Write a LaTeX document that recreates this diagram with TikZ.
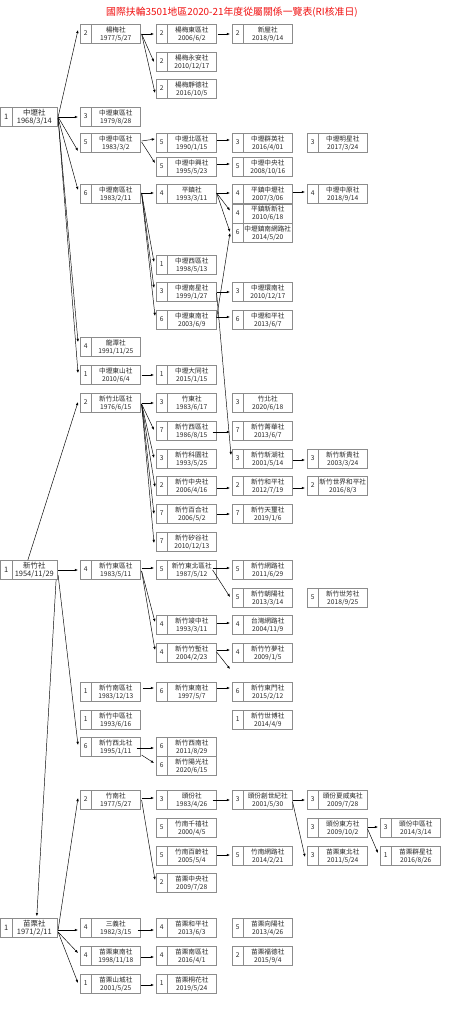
\documentclass[tikz,border=0pt]{standalone}
\usepackage{fontspec}
\setmainfont{Noto Sans CJK TC}
\usepackage{tikz}
\usetikzlibrary{arrows.meta,calc}
\definecolor{boxline}{HTML}{8C8C8C}
\definecolor{titlered}{HTML}{F01010}
\newcommand{\clubinfo}[4][36.75pt]{\makebox[8.25pt]{#2}\parbox[c]{#1}{\centering #3\\#4}}
\tikzset{
  club/.style={draw=boxline, line width=0.45pt, inner sep=0pt, anchor=west,
    minimum width=45pt, minimum height=14.25pt, text=black!85,
    font=\fontsize{5}{6}\selectfont,
    path picture={\draw[boxline, line width=0.45pt]
      ([xshift=8.25pt]path picture bounding box.north west) --
      ([xshift=8.25pt]path picture bounding box.south west);}},
  root/.style={club, minimum width=42pt, font=\fontsize{5.6}{6.4}\selectfont},
  link/.style={-{Latex[length=2.4pt,width=1.9pt]}, line width=0.35pt}
}

\begin{document}
\begin{tikzpicture}[x=0.75pt, y=-0.75pt]
        \useasboundingbox (0,0) rectangle (464,1024);

        % Title
        \node[text=titlered, font=\fontsize{7.4}{9}\selectfont] (title) at (232,12)
          {國際扶輪3501地區2020-21年度從屬關係一覽表(RI核准日)};

        % Column 1
        \node[root] (zhongli) at (0.5,117) {\clubinfo[33.75pt]{1}{中壢社}{1968/3/14}};
        \node[root] (hsinchu) at (0.5,570) {\clubinfo[33.75pt]{1}{新竹社}{1954/11/29}};
        \node[root] (miaoli) at (0.5,928) {\clubinfo[33.75pt]{1}{苗栗社}{1971/2/11}};

        % Column 2
        \node[club] (yangmei) at (80,34) {\clubinfo{2}{楊梅社}{1977/5/27}};
        \node[club] (zleast) at (80,117) {\clubinfo{3}{中壢東區社}{1979/8/28}};
        \node[club] (zlcentral) at (80,143) {\clubinfo{5}{中壢中區社}{1983/3/2}};
        \node[club] (zlsouth) at (80,194) {\clubinfo{6}{中壢南區社}{1983/2/11}};
        \node[club] (longtan) at (80,347) {\clubinfo{4}{龍潭社}{1991/11/25}};
        \node[club] (zleastmt) at (80,375) {\clubinfo{1}{中壢東山社}{2010/6/4}};
        \node[club] (hcnorth) at (80,403) {\clubinfo{2}{新竹北區社}{1976/6/15}};
        \node[club] (hceast) at (80,570) {\clubinfo{4}{新竹東區社}{1983/5/11}};
        \node[club] (hcsouth) at (80,692) {\clubinfo{1}{新竹南區社}{1983/12/13}};
        \node[club] (hccentral) at (80,720) {\clubinfo{1}{新竹中區社}{1993/6/16}};
        \node[club] (hcnw) at (80,747) {\clubinfo{6}{新竹西北社}{1995/1/11}};
        \node[club] (zhunan) at (80,800) {\clubinfo{2}{竹南社}{1977/5/27}};
        \node[club] (sanyi) at (80,928) {\clubinfo{4}{三義社}{1982/3/15}};
        \node[club] (mlse) at (80,956) {\clubinfo{4}{苗栗東南社}{1998/11/18}};
        \node[club] (mlmt) at (80,984) {\clubinfo{1}{苗栗山城社}{2001/5/25}};

        % Column 3
        \node[club] (ymeast) at (156,34) {\clubinfo{2}{楊梅東區社}{2006/6/2}};
        \node[club] (ymyongan) at (156,62) {\clubinfo{2}{楊梅永安社}{2010/12/17}};
        \node[club] (ymjingde) at (156,89) {\clubinfo{2}{楊梅靜德社}{2016/10/5}};
        \node[club] (zlnorth) at (156,143) {\clubinfo{5}{中壢北區社}{1990/1/15}};
        \node[club] (zlzhongxing) at (156,167) {\clubinfo{5}{中壢中興社}{1995/5/23}};
        \node[club] (pingzhen) at (156,194) {\clubinfo{4}{平鎮社}{1993/3/11}};
        \node[club] (zlwest) at (156,265) {\clubinfo{1}{中壢西區社}{1998/5/13}};
        \node[club] (zlnanxing) at (156,292) {\clubinfo{3}{中壢南星社}{1999/1/27}};
        \node[club] (zlse) at (156,320) {\clubinfo{6}{中壢東南社}{2003/6/9}};
        \node[club] (zldatong) at (156,375) {\clubinfo{1}{中壢大同社}{2015/1/15}};
        \node[club] (zhudong) at (156,403) {\clubinfo{3}{竹東社}{1983/6/17}};
        \node[club] (hcwest) at (156,431) {\clubinfo{7}{新竹西區社}{1986/8/15}};
        \node[club] (hckeyuan) at (156,459) {\clubinfo{3}{新竹科園社}{1993/5/25}};
        \node[club] (hczhongyang) at (156,486) {\clubinfo{2}{新竹中央社}{2006/4/16}};
        \node[club] (hcbaihe) at (156,514) {\clubinfo{7}{新竹百合社}{2006/5/2}};
        \node[club] (hcsigu) at (156,542) {\clubinfo{7}{新竹矽谷社}{2010/12/13}};
        \node[club] (hcne) at (156,570) {\clubinfo{5}{新竹東北區社}{1987/5/12}};
        \node[club] (hcjunzhong) at (156,625) {\clubinfo{4}{新竹竣中社}{1993/3/11}};
        \node[club] (hczhuqian) at (156,653) {\clubinfo{4}{新竹竹塹社}{2004/2/23}};
        \node[club] (hcdongnan) at (156,692) {\clubinfo{6}{新竹東南社}{1997/5/7}};
        \node[club] (hcxinan) at (156,747) {\clubinfo{6}{新竹西南社}{2011/8/29}};
        \node[club] (hcyangguang) at (156,766) {\clubinfo{6}{新竹陽光社}{2020/6/15}};
        \node[club] (toufen) at (156,800) {\clubinfo{3}{頭份社}{1983/4/26}};
        \node[club] (znqianxi) at (156,828) {\clubinfo{5}{竹南千禧社}{2000/4/5}};
        \node[club] (znbailing) at (156,856) {\clubinfo{5}{竹南百齡社}{2005/5/4}};
        \node[club] (mlcentral) at (156,883) {\clubinfo{2}{苗栗中央社}{2009/7/28}};
        \node[club] (mlheping) at (156,928) {\clubinfo{4}{苗栗和平社}{2013/6/3}};
        \node[club] (mlsouth) at (156,956) {\clubinfo{4}{苗栗南區社}{2016/4/1}};
        \node[club] (mltonghua) at (156,984) {\clubinfo{1}{苗栗桐花社}{2019/5/24}};

        % Column 4
        \node[club] (xinwu) at (232,34) {\clubinfo{2}{新屋社}{2018/9/14}};
        \node[club] (zlqunying) at (232,143) {\clubinfo{3}{中壢群英社}{2016/4/01}};
        \node[club] (zlzhongyang) at (232,167) {\clubinfo{5}{中壢中央社}{2008/10/16}};
        \node[club] (pzzhongli) at (232,194) {\clubinfo{4}{平鎮中壢社}{2007/3/06}};
        \node[club] (pzxinxin) at (232,213.5) {\clubinfo{4}{平鎮新新社}{2010/6/18}};
        \node[club] (zlzhennan) at (232,233) {\clubinfo{6}{中壢鎮南網路社}{2014/5/20}};
        \node[club] (zlhuannan) at (232,292) {\clubinfo{3}{中壢環南社}{2010/12/17}};
        \node[club] (zlheping) at (232,320) {\clubinfo{6}{中壢和平社}{2013/6/7}};
        \node[club] (zhubei) at (232,403) {\clubinfo{3}{竹北社}{2020/6/18}};
        \node[club] (hcjinghua) at (232,431) {\clubinfo{7}{新竹菁華社}{2013/6/7}};
        \node[club] (hcxinhu) at (232,459) {\clubinfo{3}{新竹新湖社}{2001/5/14}};
        \node[club] (hcheping) at (232,486) {\clubinfo{2}{新竹和平社}{2012/7/19}};
        \node[club] (hctianxi) at (232,514) {\clubinfo{7}{新竹天璽社}{2019/1/6}};
        \node[club] (hcwanglu) at (232,570) {\clubinfo{5}{新竹網路社}{2011/6/29}};
        \node[club] (hczhaoyang) at (232,598) {\clubinfo{5}{新竹朝陽社}{2013/3/14}};
        \node[club] (twnet) at (232,625) {\clubinfo{4}{台灣網路社}{2004/11/9}};
        \node[club] (hczhumeng) at (232,653) {\clubinfo{4}{新竹竹夢社}{2009/1/5}};
        \node[club] (hcdongmen) at (232,692) {\clubinfo{6}{新竹東門社}{2015/2/12}};
        \node[club] (hcshibo) at (232,720) {\clubinfo{1}{新竹世博社}{2014/4/9}};
        \node[club] (tfcsj) at (232,800) {\clubinfo{3}{頭份創世紀社}{2001/5/30}};
        \node[club] (znwanglu) at (232,856) {\clubinfo{5}{竹南網路社}{2014/2/21}};
        \node[club] (mlxiangyang) at (232,928) {\clubinfo{5}{苗栗向陽社}{2013/4/26}};
        \node[club] (mlfude) at (232,956) {\clubinfo{2}{苗栗福德社}{2015/9/4}};
        \coordinate (hcgap) at (230,669);

        % Column 5
        \node[club] (zlmingxing) at (307,143) {\clubinfo{3}{中壢明星社}{2017/3/24}};
        \node[club] (zlzhongyuan) at (307,194) {\clubinfo{4}{中壢中原社}{2018/9/14}};
        \node[club] (hcxingui) at (307,459) {\clubinfo{3}{新竹新貴社}{2003/3/24}};
        \node[club] (hcworldpeace) at (307,486) {\clubinfo{2}{新竹世界和平社}{2016/8/3}};
        \node[club] (hcshifang) at (307,598) {\clubinfo{5}{新竹世芳社}{2018/9/25}};
        \node[club] (tfhawaii) at (307,800) {\clubinfo{3}{頭份夏威夷社}{2009/7/28}};
        \node[club] (tfdongfang) at (307,828) {\clubinfo{3}{頭份東方社}{2009/10/2}};
        \node[club] (mldongbei) at (307,856) {\clubinfo{3}{苗栗東北社}{2011/5/24}};

        % Column 6
        \node[club] (tfzhongqu) at (380,828) {\clubinfo{3}{頭份中區社}{2014/3/14}};
        \node[club] (mlqunxing) at (380,856) {\clubinfo{1}{苗栗群星社}{2016/8/26}};

        % Zhongli links
        \draw[link] ($(zhongli.east)+(1,0)$) -- ($(yangmei.west)+(-2,-4)$);
        \draw[link] ($(zhongli.east)+(1,0)$) -- ($(zleast.west)+(-2,0)$);
        \draw[link] ($(zhongli.east)+(1,0)$) -- ($(zlcentral.west)+(-2,8)$);
        \draw[link] ($(zhongli.east)+(1,1)$) -- ($(zlsouth.west)+(-2,-4)$);
        \draw[link] ($(zhongli.east)+(1,1)$) -- ($(longtan.west)+(-2,-5)$);
        \draw[link] ($(zhongli.east)+(1,1)$) -- ($(zleastmt.west)+(-2,-2)$);
        \draw[link] ($(yangmei.east)+(1,0)$) -- ($(ymeast.west)+(-2,0)$);
        \draw[link] ($(yangmei.east)+(1,0)$) -- ($(ymyongan.west)+(-2,0)$);
        \draw[link] ($(yangmei.east)+(1,0)$) -- ($(ymjingde.west)+(-1,4)$);
        \draw[link] ($(ymeast.east)+(1,0)$) -- ($(xinwu.west)+(-2,0)$);
        \draw[link] ($(zlcentral.east)+(1,-2)$) -- ($(zlnorth.west)+(-1,-4)$);
        \draw[link] ($(zlcentral.east)+(1,-1)$) -- ($(zlzhongxing.west)+(-1,-4)$);
        \draw[link] ($(zlnorth.east)+(0,-3)$) -- ($(zlqunying.west)+(-2,-3)$);
        \draw[link] ($(zlzhongxing.east)+(0,-3)$) -- ($(zlzhongyang.west)+(-2,-3)$);
        \draw[link] ($(zlsouth.east)+(1,-1)$) -- ($(pingzhen.west)+(-2,-1)$);
        \draw[link] ($(zlsouth.east)+(1,-1)$) -- ($(zlwest.west)+(-2,-3)$);
        \draw[link] ($(zlsouth.east)+(1,-1)$) -- ($(zlnanxing.west)+(-2,-4)$);
        \draw[link] ($(zlsouth.east)+(1,-1)$) -- ($(zlse.west)+(-1,-4)$);
        \draw[link] ($(pingzhen.east)+(0,-1)$) -- ($(pzzhongli.west)+(-2,-1)$);
        \draw[link] ($(pingzhen.east)+(0,-1)$) -- ($(pzxinxin.west)+(-2,-3)$);
        \draw[link] ($(pingzhen.east)+(0,-1)$) -- ($(zlzhennan.west)+(-2,-1)$);
        \draw[link] ($(zlse.east)+(0,-2)$) -- ($(zlzhennan.west)+(-2,0)$);
        \draw[link] ($(pzzhongli.east)+(0,-2)$) -- ($(zlzhongyuan.west)+(-2,-2)$);
        \draw[link] ($(zlnanxing.east)+(0,0)$) -- ($(zlhuannan.west)+(-2,0)$);
        \draw[link] ($(zlnanxing.east)+(0,1)$) -- ($(hcxinhu.west)+(-1,-4)$);
        \draw[link] ($(zlse.east)+(0,-3)$) -- ($(zlheping.west)+(-2,-3)$);
        \draw[link] ($(zleastmt.east)+(1,0)$) -- ($(zldatong.west)+(-2,0)$);

        % Hsinchu links
        \draw[link] ($(hsinchu.north)+(-1,0)$) -- ($(hcnorth.west)+(-2,-1)$);
        \draw[link] ($(hsinchu.east)+(1,0)$) -- ($(hceast.west)+(-2,0)$);
        \draw[link] ($(hsinchu.east)+(1,5)$) -- ($(hcnw.west)+(-2,-2)$);
        \draw[link] ($(hsinchu.south east)+(-1,0)$) -- ($(miaoli.north)+(8,-2)$);
        \draw[link] ($(hcnorth.east)+(1,0)$) -- ($(zhudong.west)+(-2,0)$);
        \draw[link] ($(hcnorth.east)+(1,1)$) -- ($(hcwest.west)+(-2,-1)$);
        \draw[link] ($(hcnorth.east)+(1,1)$) -- ($(hckeyuan.west)+(-2,-1)$);
        \draw[link] ($(hcnorth.east)+(1,1)$) -- ($(hczhongyang.west)+(-1,1)$);
        \draw[link] ($(hcnorth.east)+(1,1)$) -- ($(hcbaihe.west)+(-2,0)$);
        \draw[link] ($(hcnorth.east)+(1,1)$) -- ($(hcsigu.west)+(-2,1)$);
        \draw[link] ($(hcwest.east)+(-4,1)$) -- ($(hcjinghua.west)+(-2,1)$);
        \draw[link] ($(hcxinhu.east)+(0,1)$) -- ($(hcxingui.west)+(-2,1)$);
        \draw[link] ($(hczhongyang.east)+(0,2)$) -- ($(hcheping.west)+(-2,2)$);
        \draw[link] ($(hcheping.east)+(0,2)$) -- ($(hcworldpeace.west)+(-2,2)$);
        \draw[link] ($(hcbaihe.east)+(0,0)$) -- ($(hctianxi.west)+(-2,0)$);
        \draw[link] ($(hceast.east)+(1,-2)$) -- ($(hcne.west)+(-2,-2)$);
        \draw[link] ($(hceast.east)+(1,1)$) -- ($(hcjunzhong.west)+(-1,-3)$);
        \draw[link] ($(hceast.east)+(1,1)$) -- ($(hczhuqian.west)+(-1,-3)$);
        \draw[link] ($(hcne.east)+(-4,-2)$) -- ($(hcwanglu.west)+(-2,-2)$);
        \draw[link] ($(hcne.east)+(-4,0)$) -- ($(hczhaoyang.west)+(-2,-1)$);
        \draw[link] ($(hcjunzhong.east)+(0,-2)$) -- ($(twnet.west)+(-2,-2)$);
        \draw[link] ($(hczhuqian.east)+(0,-3)$) -- ($(hczhumeng.west)+(-2,-3)$);
        \draw[link] ($(hczhuqian.east)+(0,-1)$) -- (hcgap);
        \draw[link] ($(hcsouth.east)+(2,-4)$) -- ($(hcdongnan.west)+(-2,-4)$);
        \draw[link] ($(hcdongnan.east)+(0,-4)$) -- ($(hcdongmen.west)+(-2,-4)$);
        \draw[link] ($(hcnw.east)+(-4,1)$) -- ($(hcxinan.west)+(-2,1)$);
        \draw[link] ($(hcnw.east)+(1,8)$) -- ($(hcyangguang.west)+(-2,-3)$);

        % Miaoli links
        \draw[link] ($(miaoli.east)+(1,2)$) -- ($(zhunan.west)+(-2,-2)$);
        \draw[link] ($(miaoli.east)+(1,2)$) -- ($(sanyi.west)+(-2,2)$);
        \draw[link] ($(miaoli.east)+(1,4)$) -- ($(mlse.west)+(-2,-3)$);
        \draw[link] ($(miaoli.east)+(1,4)$) -- ($(mlmt.west)+(-2,-1)$);
        \draw[link] ($(zhunan.east)+(1,-2)$) -- ($(toufen.west)+(-2,-2)$);
        \draw[link] ($(zhunan.east)+(1,0)$) -- ($(mlcentral.west)+(-1,-3)$);
        \draw[link] ($(toufen.east)+(-4,0)$) -- ($(tfcsj.west)+(-2,0)$);
        \draw[link] ($(tfcsj.east)+(0,0)$) -- ($(tfhawaii.west)+(-2,0)$);
        \draw[link] ($(tfcsj.east)+(0,2)$) -- ($(mldongbei.west)+(-2,1)$);
        \draw[link] ($(tfdongfang.east)+(0,-1)$) -- ($(tfzhongqu.west)+(-2,-1)$);
        \draw[link] ($(tfdongfang.east)+(0,1)$) -- ($(mlqunxing.west)+(-2,-3)$);
        \draw[link] ($(znbailing.east)+(0,-1)$) -- ($(znwanglu.west)+(-2,-1)$);
        \draw[link] ($(sanyi.east)+(-3,2)$) -- ($(mlheping.west)+(-2,2)$);
        \draw[link] ($(mlse.east)+(0,1)$) -- ($(mlsouth.west)+(-2,1)$);
        \draw[link] ($(mlmt.east)+(0,1)$) -- ($(mltonghua.west)+(-2,1)$);
      \end{tikzpicture}
\end{document}
